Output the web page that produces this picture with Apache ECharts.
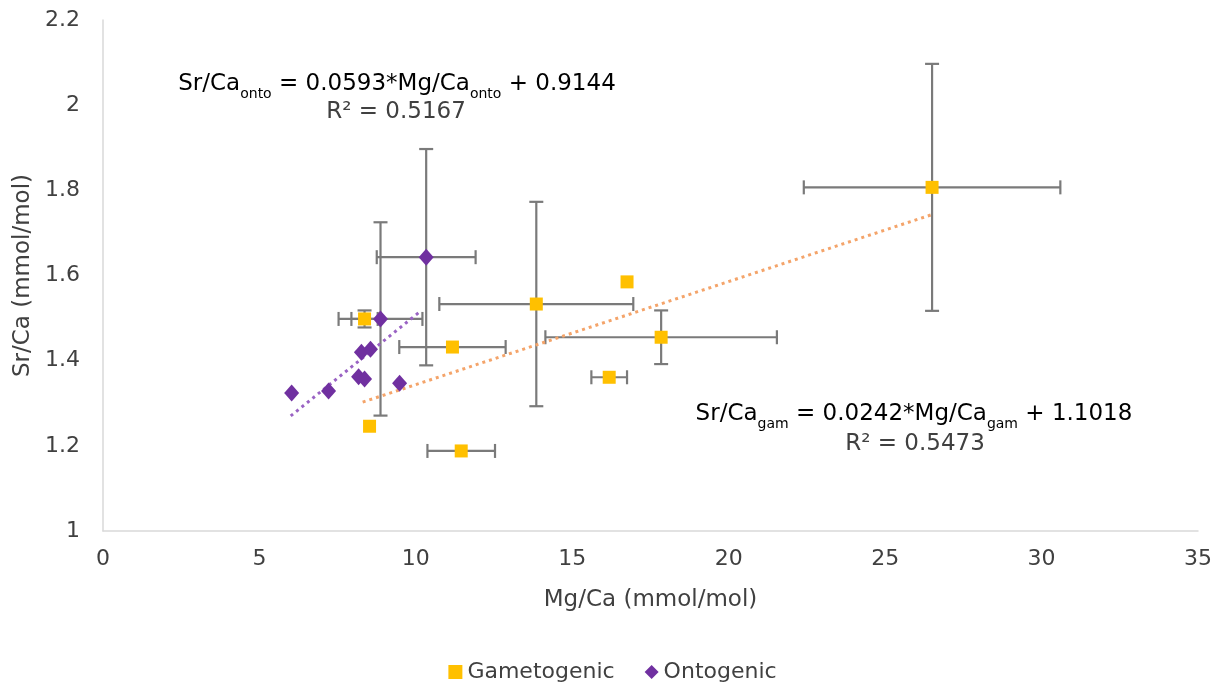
<!DOCTYPE html>
<html>
<head>
<meta charset="utf-8">
<script src="https://cdn.jsdelivr.net/npm/echarts@6/dist/echarts.min.js"></script>
<style>
  html, body { margin: 0; padding: 0; background: #fff; }
  #chart { width: 1225px; height: 682px; }
</style>
</head>
<body>
<div id="chart"></div>
<script>
// Gametogenic samples: Mg/Ca, Sr/Ca and their standard deviations
const gamMg    = [26.5, 13.85, 16.75, 17.84, 16.18, 11.17, 11.45, 8.36, 8.52];
const gamSr    = [1.807, 1.533, 1.585, 1.455, 1.361, 1.432, 1.188, 1.498, 1.246];
const gamMgErr = [4.1, 3.1, 0, 3.7, 0.57, 1.7, 1.08, 0.42, 0];
const gamSrErr = [0.29, 0.24, 0, 0.063, 0, 0, 0, 0.02, 0];

// Ontogenic samples
const ontoMg    = [10.33, 8.87, 8.26, 8.55, 8.17, 8.36, 9.48, 6.03, 7.21];
const ontoSr    = [1.643, 1.498, 1.42, 1.427, 1.362, 1.357, 1.347, 1.324, 1.329];
const ontoMgErr = [1.58, 1.34, 0, 0, 0, 0, 0, 0, 0];
const ontoSrErr = [0.254, 0.227, 0, 0, 0, 0, 0, 0, 0];

// Linear fits (slope, intercept) and the Mg/Ca span each trend line covers
const gamFit  = { slope: 0.0242, intercept: 1.1018, r2: 0.5473 };
const ontoFit = { slope: 0.0593, intercept: 0.9144, r2: 0.5167 };
const gamFitSpan  = [8.3, 26.5];
const ontoFitSpan = [6.0, 10.15];

const xTicks = [0, 5, 10, 15, 20, 25, 30, 35];
const yTicks = [1, 1.2, 1.4, 1.6, 1.8, 2, 2.2];

const GAM_COLOR = '#FFC000';
const ONTO_COLOR = '#7030A0';
const TEXT_COLOR = '#404040';
const FONT = '"DejaVu Sans", sans-serif';

function zip(xs, ys) { return xs.map((x, i) => [x, ys[i]]); }
function errRows(xs, ys, ex, ey) { return xs.map((x, i) => [x, ys[i], ex[i], ey[i]]); }
function fitLine(span, fit) {
  return span.map(x => [x, fit.slope * x + fit.intercept]);
}

// Draws horizontal and vertical error bars with end caps
function renderErr(params, api) {
  const x = api.value(0), y = api.value(1), ex = api.value(2), ey = api.value(3);
  const cap = 7;
  const style = { stroke: '#7A7A7A', lineWidth: 2.2 };
  const kids = [];
  if (ex > 0) {
    const a = api.coord([x - ex, y]), b = api.coord([x + ex, y]);
    kids.push({ type: 'line', shape: { x1: a[0], y1: a[1], x2: b[0], y2: b[1] }, style });
    kids.push({ type: 'line', shape: { x1: a[0], y1: a[1] - cap, x2: a[0], y2: a[1] + cap }, style });
    kids.push({ type: 'line', shape: { x1: b[0], y1: b[1] - cap, x2: b[0], y2: b[1] + cap }, style });
  }
  if (ey > 0) {
    const a = api.coord([x, y - ey]), b = api.coord([x, y + ey]);
    kids.push({ type: 'line', shape: { x1: a[0], y1: a[1], x2: b[0], y2: b[1] }, style });
    kids.push({ type: 'line', shape: { x1: a[0] - cap, y1: a[1], x2: a[0] + cap, y2: a[1] }, style });
    kids.push({ type: 'line', shape: { x1: b[0] - cap, y1: b[1], x2: b[0] + cap, y2: b[1] }, style });
  }
  return { type: 'group', children: kids };
}

const eqRich = {
  m: { fontSize: 23, color: TEXT_COLOR, fontFamily: FONT, lineHeight: 28 },
  s: { fontSize: 14, color: TEXT_COLOR, fontFamily: FONT, verticalAlign: 'bottom', lineHeight: 28, padding: [0, 0, -3, 0] }
};

function eqText(cx, cy, sub, slope, intercept) {
  return {
    type: 'text', x: cx, y: cy,
    style: {
      text: '{m|Sr/Ca}{s|' + sub + '}{m| = ' + slope.toFixed(4) + '*Mg/Ca}{s|' + sub + '}{m| + ' + intercept.toFixed(4) + '}',
      rich: eqRich, align: 'center', verticalAlign: 'middle'
    }
  };
}
function r2Text(cx, cy, r2) {
  return {
    type: 'text', x: cx, y: cy,
    style: { text: 'R² = ' + r2.toFixed(4), fontSize: 23, fontFamily: FONT, fill: TEXT_COLOR,
             align: 'center', verticalAlign: 'middle' }
  };
}

const chart = echarts.init(document.getElementById('chart'), null, { renderer: 'canvas' });
chart.setOption({
  animation: false,
  backgroundColor: '#fff',
  textStyle: { fontFamily: FONT },
  grid: { left: 103, right: 27, top: 20, bottom: 151 },
  xAxis: {
    type: 'value', min: xTicks[0], max: xTicks[xTicks.length - 1], interval: 5,
    name: 'Mg/Ca (mmol/mol)', nameLocation: 'middle', nameGap: 58,
    nameTextStyle: { fontSize: 23, color: TEXT_COLOR, fontFamily: FONT },
    axisLine: { lineStyle: { color: '#D9D9D9', width: 1.5 } },
    axisTick: { show: false },
    splitLine: { show: false },
    axisLabel: { fontSize: 22, color: TEXT_COLOR, margin: 17, fontFamily: FONT }
  },
  yAxis: {
    type: 'value', min: yTicks[0], max: yTicks[yTicks.length - 1], interval: 0.2,
    name: 'Sr/Ca (mmol/mol)', nameLocation: 'middle', nameGap: 66,
    nameTextStyle: { fontSize: 23, color: TEXT_COLOR, fontFamily: FONT },
    axisLine: { show: true, lineStyle: { color: '#D9D9D9', width: 1.5 } },
    axisTick: { show: false },
    splitLine: { show: false },
    axisLabel: { fontSize: 22, color: TEXT_COLOR, margin: 23, fontFamily: FONT,
      formatter: v => String(Math.round(v * 10) / 10) }
  },
  legend: {
    top: 656, left: 'center', itemWidth: 14, itemHeight: 14, itemGap: 30,
    textStyle: { fontSize: 22, color: TEXT_COLOR, fontFamily: FONT },
    data: [
      { name: 'Gametogenic', icon: 'rect' },
      { name: 'Ontogenic', icon: 'diamond' }
    ]
  },
  graphic: [
    eqText(397, 84, 'onto', ontoFit.slope, ontoFit.intercept),
    r2Text(396, 112, ontoFit.r2),
    eqText(914, 414, 'gam', gamFit.slope, gamFit.intercept),
    r2Text(915, 444, gamFit.r2)
  ],
  series: [
    {
      name: 'gamErr', type: 'custom', renderItem: renderErr, z: 1, silent: true,
      encode: { x: 0, y: 1 },
      data: errRows(gamMg, gamSr, gamMgErr, gamSrErr)
    },
    {
      name: 'ontoErr', type: 'custom', renderItem: renderErr, z: 1, silent: true,
      encode: { x: 0, y: 1 },
      data: errRows(ontoMg, ontoSr, ontoMgErr, ontoSrErr)
    },
    {
      name: 'gamFit', type: 'line', z: 2, symbol: 'none', silent: true,
      lineStyle: { color: '#F4A46A', width: 3, type: [3, 4] },
      data: fitLine(gamFitSpan, gamFit)
    },
    {
      name: 'ontoFit', type: 'line', z: 2, symbol: 'none', silent: true,
      lineStyle: { color: '#9A63C4', width: 3, type: [3, 4] },
      data: fitLine(ontoFitSpan, ontoFit)
    },
    {
      name: 'Gametogenic', type: 'scatter', z: 3, symbol: 'rect', symbolSize: 13,
      itemStyle: { color: GAM_COLOR, opacity: 1 },
      data: zip(gamMg, gamSr)
    },
    {
      name: 'Ontogenic', type: 'scatter', z: 3, symbol: 'diamond', symbolSize: [15, 17],
      itemStyle: { color: ONTO_COLOR, opacity: 1 },
      data: zip(ontoMg, ontoSr)
    }
  ]
});
</script>
</body>
</html>
